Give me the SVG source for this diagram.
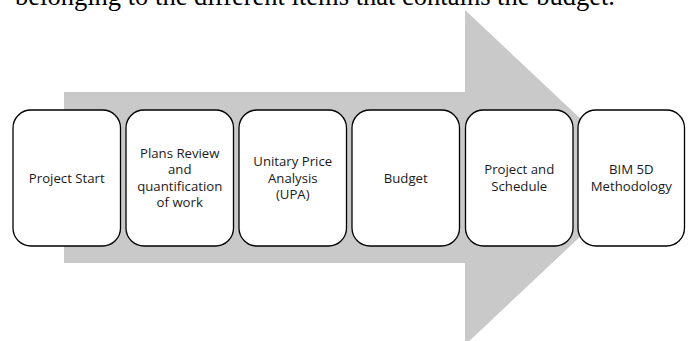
<svg xmlns="http://www.w3.org/2000/svg" width="691" height="341" viewBox="0 0 691 341">
<style>
.box{fill:#ffffff;stroke:#000000;stroke-width:1.3}
.lbl{font-family:"Open Sans","Liberation Sans",sans-serif;font-size:13.2px;fill:#1a1a1a;text-anchor:middle;font-variant-ligatures:none}
.cap{font-family:"Liberation Serif",serif;font-size:26.5px;fill:#000000}
</style>
<rect width="691" height="341" fill="#ffffff"/>
<text class="cap" x="15" y="5" textLength="600" lengthAdjust="spacingAndGlyphs">belonging to the different items that contains the budget.</text>
<g id="connectors">
<polygon id="arrow" points="64,92 465,92 465,10 643,177.5 465,345 465,263 64,263" fill="#c9c9c9"/>
</g>
<g id="n1"><rect class="box" x="13" y="110" width="107.5" height="136" rx="18"/><text class="lbl" x="66.75" y="182.65">Project Start</text></g>
<g id="n2"><rect class="box" x="126" y="110" width="107.5" height="136" rx="18"/><text class="lbl" x="179.75"><tspan x="179.75" y="157.9">Plans Review</tspan><tspan x="179.75" y="174.4">and</tspan><tspan x="179.75" y="190.9">quantification</tspan><tspan x="179.75" y="207.4">of work</tspan></text></g>
<g id="n3"><rect class="box" x="239" y="110" width="107.5" height="136" rx="18"/><text class="lbl" x="292.75"><tspan x="292.75" y="166.15">Unitary Price</tspan><tspan x="292.75" y="182.65">Analysis</tspan><tspan x="292.75" y="199.15">(UPA)</tspan></text></g>
<g id="n4"><rect class="box" x="352" y="110" width="107.5" height="136" rx="18"/><text class="lbl" x="405.75" y="182.65">Budget</text></g>
<g id="n5"><rect class="box" x="465.5" y="110" width="107.5" height="136" rx="18"/><text class="lbl" x="519.25"><tspan x="519.25" y="174.4">Project and</tspan><tspan x="519.25" y="190.9">Schedule</tspan></text></g>
<g id="n6"><rect class="box" x="578" y="110" width="106.5" height="136" rx="18"/><text class="lbl" x="631.25"><tspan x="631.25" y="174.4">BIM 5D</tspan><tspan x="631.25" y="190.9">Methodology</tspan></text></g>
</svg>
